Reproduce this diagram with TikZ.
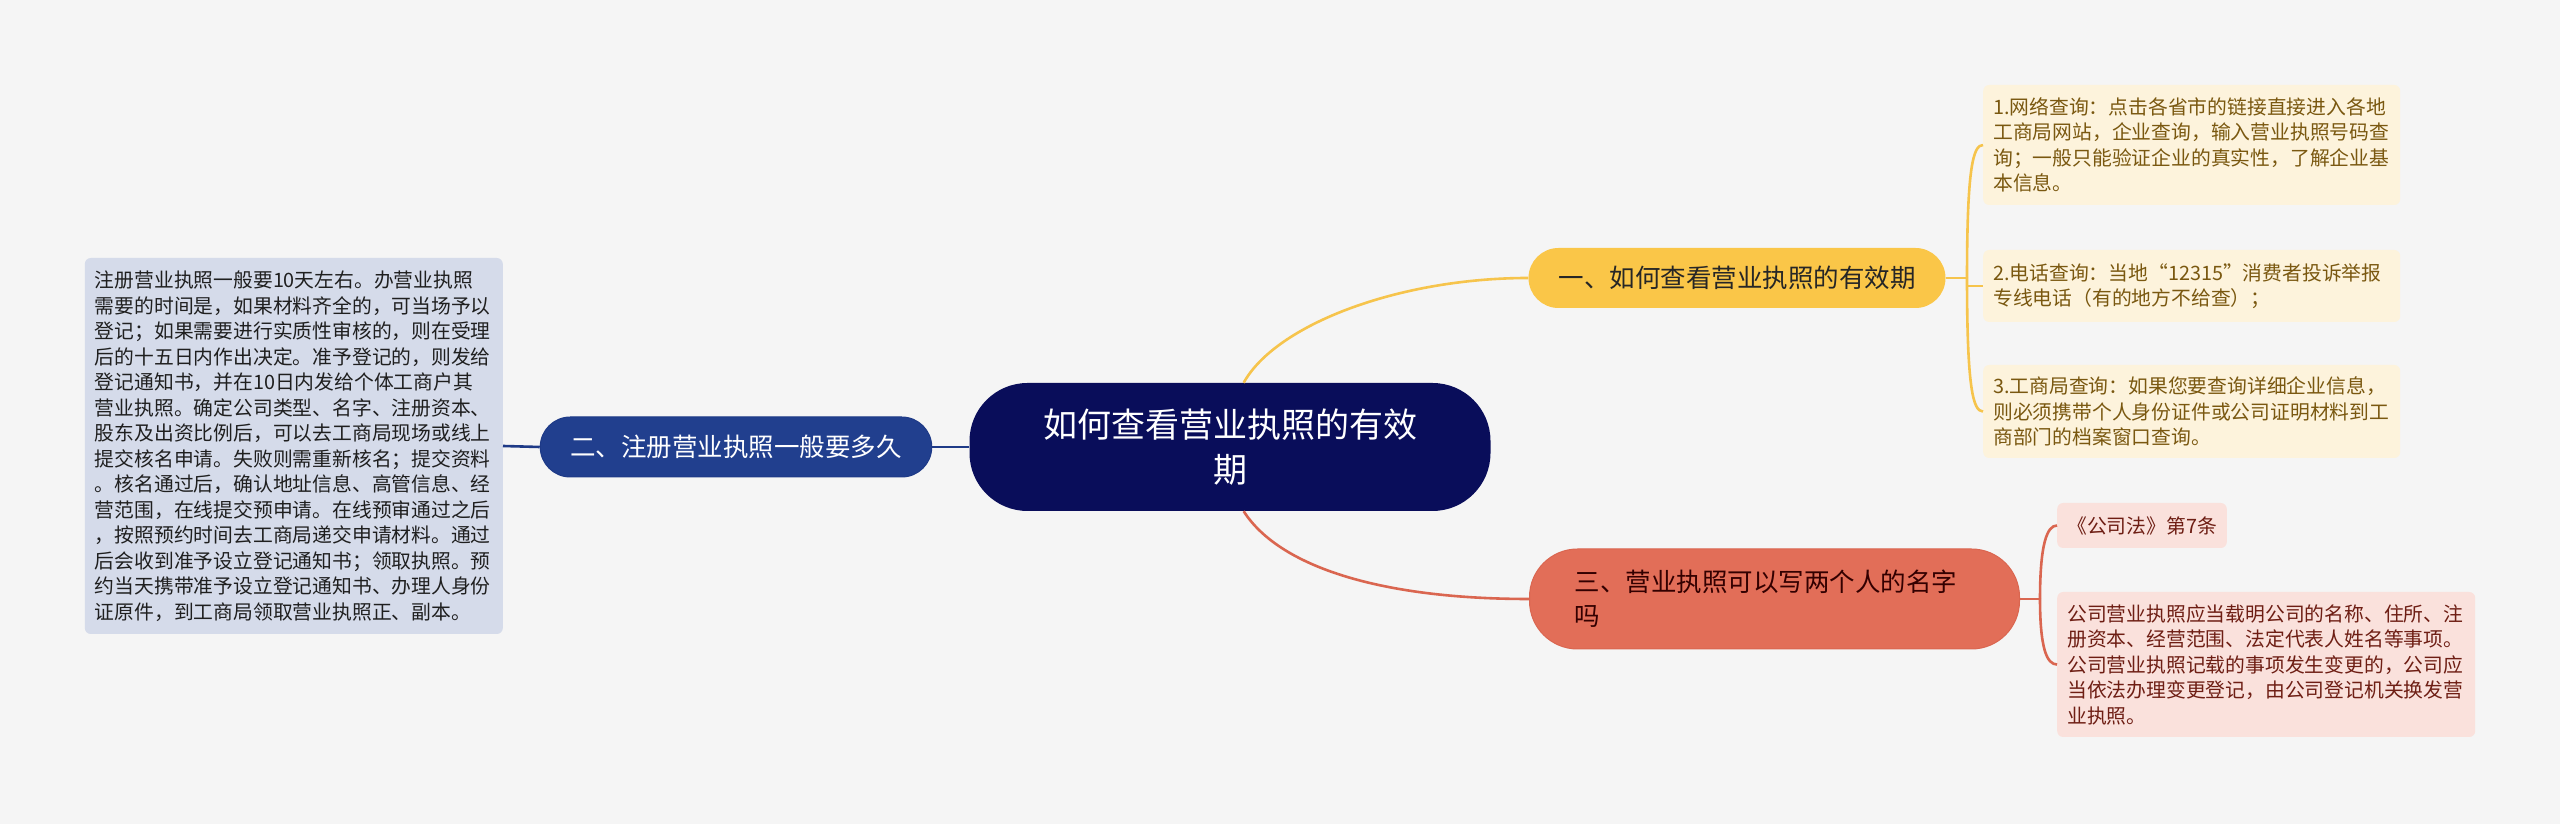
\documentclass[tikz,border=0pt]{standalone}
\usepackage{fontspec}
\usepackage{tikz}
\usetikzlibrary{positioning}
\newfontfamily\cjk{Noto Sans CJK SC}

\definecolor{bgGray}{RGB}{245,245,245}
\definecolor{rootBlue}{RGB}{9,13,90}
\definecolor{ylwFill}{RGB}{250,198,72}
\definecolor{ylwLine}{RGB}{246,196,76}
\definecolor{ylwLeaf}{RGB}{253,243,220}
\definecolor{ylwText}{RGB}{122,88,16}
\definecolor{bluFill}{RGB}{33,63,142}
\definecolor{bluLine}{RGB}{30,58,135}
\definecolor{bluLeaf}{RGB}{213,219,234}
\definecolor{redFill}{RGB}{226,110,88}
\definecolor{redLine}{RGB}{218,102,80}
\definecolor{redLeaf}{RGB}{250,225,220}
\definecolor{redText}{RGB}{110,30,20}

\begin{document}
\begin{tikzpicture}[x=1pt, y=1pt, every node/.style={font=\cjk},
  topic/.style={fill=rootBlue, text=white, rounded corners=58pt, minimum width=521pt,
    minimum height=128pt, text width=400pt, align=center, font=\cjk\fontsize{34}{45}\selectfont},
  branch/.style={rounded corners=30pt, minimum height=60pt, inner xsep=30pt,
    font=\cjk\fontsize{25.5}{34}\selectfont},
  leaf/.style={rounded corners=6pt, inner xsep=10pt, inner ysep=8pt, align=left,
    font=\cjk\fontsize{19.8}{25.5}\selectfont},
  link/.style={line width=2.6pt}]
  % Background
  \fill[bgGray] (0,0) rectangle (2560,824);

  % Central topic
  \node[topic] (root) at (1230,377) {如何查看营业执照的有效\\期};

  % Main branches
  \node[branch, fill=ylwFill, text={black!85}] (b1) at (1737,546) {一、如何查看营业执照的有效期};
  \node[branch, fill=bluFill, draw=bluLine, line width=1pt, text=white] (b2) at (736,377) {二、注册营业执照一般要多久};
  \node[branch, fill=redFill, draw=redLine, line width=1pt, text={black!80!red}, rounded corners=48pt,
    minimum height=100pt, inner xsep=45pt, text width=400pt, align=left] (b3) at (1774.5,225)
    {三、营业执照可以写两个人的名字\\吗};

  % Leaves of branch one
  \node[leaf, fill=ylwLeaf, text=ylwText, text width=397pt, minimum height=120pt, anchor=west] (y1) at (1983,679)
    {1.网络查询：点击各省市的链接直接进入各地\\工商局网站，企业查询，输入营业执照号码查\\询；一般只能验证企业的真实性，了解企业基\\本信息。};
  \node[leaf, fill=ylwLeaf, text=ylwText, text width=397pt, minimum height=72pt, anchor=west] (y2) at (1983,538)
    {2.电话查询：当地“12315”消费者投诉举报\\专线电话（有的地方不给查）；};
  \node[leaf, fill=ylwLeaf, text=ylwText, text width=397pt, minimum height=93pt, anchor=west] (y3) at (1983,412.5)
    {3.工商局查询：如果您要查询详细企业信息，\\则必须携带个人身份证件或公司证明材料到工\\商部门的档案窗口查询。};

  % Leaf of branch two
  \node[leaf, fill=bluLeaf, text={black!88}, text width=398pt, minimum height=376pt, anchor=east] (l2) at (503,378)
    {注册营业执照一般要10天左右。办营业执照\\需要的时间是，如果材料齐全的，可当场予以\\登记；如果需要进行实质性审核的，则在受理\\后的十五日内作出决定。准予登记的，则发给\\登记通知书，并在10日内发给个体工商户其\\营业执照。确定公司类型、名字、注册资本、\\股东及出资比例后，可以去工商局现场或线上\\提交核名申请。失败则需重新核名；提交资料\\。核名通过后，确认地址信息、高管信息、经\\营范围，在线提交预申请。在线预审通过之后\\，按照预约时间去工商局递交申请材料。通过\\后会收到准予设立登记通知书；领取执照。预\\约当天携带准予设立登记通知书、办理人身份\\证原件，到工商局领取营业执照正、副本。};

  % Leaves of branch three
  \node[leaf, fill=redLeaf, text=redText, minimum height=45pt, anchor=west] (r1) at (2057,298.5) {《公司法》第7条};
  \node[leaf, fill=redLeaf, text=redText, text width=398pt, minimum height=145pt, anchor=west] (r2) at (2057,159.5)
    {公司营业执照应当载明公司的名称、住所、注\\册资本、经营范围、法定代表人姓名等事项。\\公司营业执照记载的事项发生变更的，公司应\\当依法办理变更登记，由公司登记机关换发营\\业执照。};

  % Junctions
  \coordinate (k1) at (1967,546);
  \coordinate (k3) at (2040,225);

  % Root to branches
  \draw[link, ylwLine] (root.78) .. controls +(32,58) and +(-130,0) .. (b1.west);
  \draw[link, bluLine] (root.west) -- (b2.east);
  \draw[link, redLine] (root.282) .. controls +(35,-55) and +(-150,0) .. (b3.west);

  % Branch one to leaves
  \draw[link, ylwLine] (b1.east) -- (k1);
  \draw[link, ylwLine] (k1) .. controls +(0,110) and +(-10,0) .. (y1.west);
  \draw[link, ylwLine] (k1) |- (y2.west);
  \draw[link, ylwLine] (k1) .. controls +(0,-110) and +(-10,0) .. (y3.west);

  % Branch two to leaf
  \draw[link, bluLine] (b2.west) -- (l2.east);

  % Branch three to leaves
  \draw[link, redLine] (b3.east) -- (k3);
  \draw[link, redLine] (k3) .. controls +(0,55) and +(-10,0) .. (r1.west);
  \draw[link, redLine] (k3) .. controls +(0,-50) and +(-10,0) .. (r2.west);
\end{tikzpicture}
\end{document}
